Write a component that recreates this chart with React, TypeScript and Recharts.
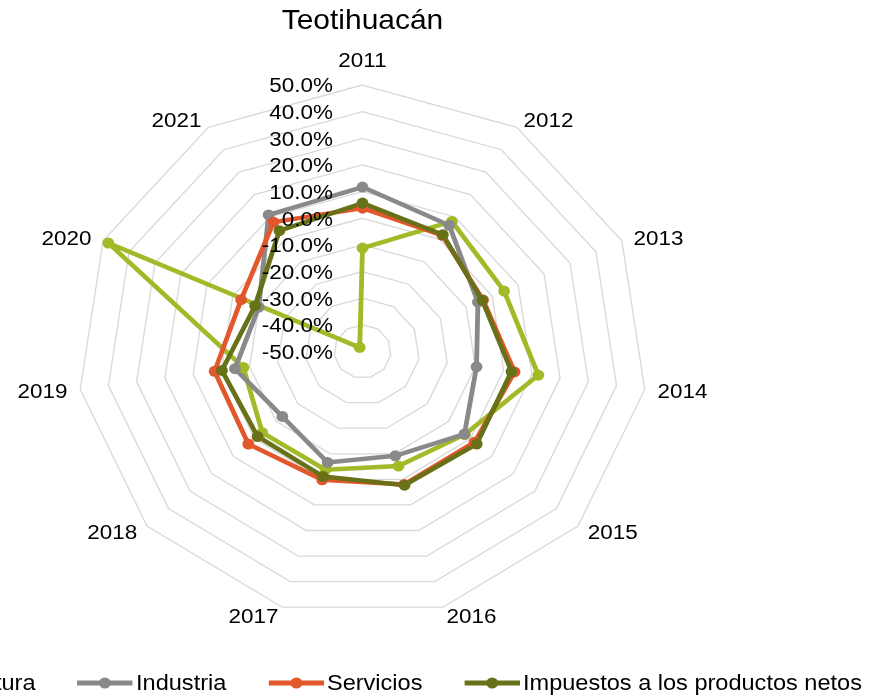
import React from "react";
import {
  RadarChart,
  Radar,
  PolarGrid,
  PolarAngleAxis,
  PolarRadiusAxis,
  Legend,
} from "recharts";

const years = ["2011", "2012", "2013", "2014", "2015", "2016", "2017", "2018", "2019", "2020", "2021"];

const agricultura = [-11.2, 8.0, 4.6, 12.3, -2.5, -5.2, -3.8, -3.5, -7.8, 48.0, -48.2];
const industria = [11.7, 6.3, -5.5, -9.6, -2.7, -9.2, -6.6, -12.8, -4.8, -10.0, 10.9];
const servicios = [3.8, 1.8, -3.5, 3.9, 2.0, 2.0, 0.2, 3.0, 2.4, -3.2, 7.7];
const impuestos = [5.7, 2.1, -3.8, 2.8, 3.0, 2.3, -1.1, -1.3, -0.2, -8.6, 3.9];

const radialTicks = [-50, -40, -30, -20, -10, 0, 10, 20, 30, 40, 50];

const series = [
  { key: "agricultura", name: "Agricultura", color: "#a2b928" },
  { key: "industria", name: "Industria", color: "#898989" },
  { key: "servicios", name: "Servicios", color: "#e2572b" },
  { key: "impuestos", name: "Impuestos a los productos netos", color: "#687118" },
];

const data = years.map((year, i) => ({
  year,
  agricultura: agricultura[i],
  industria: industria[i],
  servicios: servicios[i],
  impuestos: impuestos[i],
}));

// the reference is a bit wider than tall, so the chart is stretched sideways
const SX = 1.07;
const W = 878 / SX;
const CX = 362.5 / SX;
const CY = 351.5;
const R = 266.5;
const FONT = '"Liberation Sans", Arial, sans-serif';

const AngleTick = (props: any) => {
  const { payload } = props;
  const i = years.indexOf(String(payload.value));
  const a = ((90 - (i * 360) / years.length) * Math.PI) / 180;
  const ux = Math.cos(a);
  const uy = -Math.sin(a);
  const vx = CX + R * ux;
  const vy = CY + R * uy;
  let x = vx;
  let anchor: "start" | "middle" | "end" = "middle";
  let mid = vy + uy * 25;
  if (Math.abs(ux) > 0.1) {
    anchor = ux > 0 ? "start" : "end";
    x = vx + ux * 12;
    mid = vy + uy * 9;
  }
  return (
    <text x={x} y={mid + 7.5} textAnchor={anchor} fontSize={21} fill="#000" style={{ fontFamily: FONT }}>
      {payload.value}
    </text>
  );
};

const RadiusTick = (props: any) => {
  const { x, y, payload } = props;
  return (
    <text x={x - 27.6} y={y + 7.5} textAnchor="end" fontSize={21} fill="#000" style={{ fontFamily: FONT }}>
      {Number(payload.value).toFixed(1)}%
    </text>
  );
};

const renderLegend = (props: any) => {
  const payload = [...(props.payload || [])].sort(
    (a: any, b: any) =>
      series.findIndex((s) => s.name === a.value) - series.findIndex((s) => s.name === b.value)
  );
  return (
    <div style={{ display: "flex", whiteSpace: "nowrap", fontFamily: FONT, fontSize: 22, color: "#000" }}>
      {payload.map((entry: any) => {
        const s = series.find((it) => it.name === entry.value);
        const c = s ? s.color : entry.color;
        return (
          <div key={entry.value} style={{ display: "flex", alignItems: "center", marginRight: 39 }}>
            <svg width={52} height={14} style={{ marginRight: 3 }}>
              <line x1={0} y1={7} x2={52} y2={7} stroke={c} strokeWidth={5} />
              <circle cx={26} cy={7} r={5.5} fill={c} />
            </svg>
            <span style={{ lineHeight: "26px" }}>{entry.value}</span>
          </div>
        );
      })}
    </div>
  );
};

export default function App() {
  return (
    <div style={{ position: "absolute", left: 0, top: 0, width: 878, height: 700, overflow: "hidden", background: "#fff" }}>
      <div style={{ position: "absolute", left: 0, top: 0, width: W, height: 700, transform: `scaleX(${SX})`, transformOrigin: "0 0" }}>
        <div
          style={{
            position: "absolute",
            left: CX - 200,
            width: 400,
            top: 6.3,
            textAlign: "center",
            fontFamily: FONT,
            fontSize: 28,
            lineHeight: "28px",
            color: "#000",
          }}
        >
          Teotihuacán
        </div>
        <RadarChart
          width={W}
          height={700}
          data={data}
          cx={CX}
          cy={CY}
          outerRadius={R}
          startAngle={90}
          endAngle={-270}
          margin={{ top: 0, right: 0, bottom: 0, left: 0 }}
        >
          <PolarGrid gridType="polygon" radialLines={false} stroke="#d9d9d9" strokeWidth={1.3} />
          <PolarAngleAxis dataKey="year" tick={AngleTick} tickLine={false} axisLine={false} />
          <PolarRadiusAxis
            angle={90}
            domain={[-50, 50]}
            ticks={radialTicks}
            allowDataOverflow
            tick={RadiusTick}
            tickLine={false}
            axisLine={false}
          />
          {series.map((s) => (
            <Radar
              key={s.key}
              name={s.name}
              dataKey={s.key}
              stroke={s.color}
              strokeWidth={4.5}
              fill="none"
              fillOpacity={0}
              dot={{ r: 5.5, fill: s.color, stroke: s.color, strokeWidth: 0, fillOpacity: 1 }}
              isAnimationActive={false}
            />
          ))}
          <Legend content={renderLegend} wrapperStyle={{ left: -127, top: 670, width: 1100 }} />
        </RadarChart>
      </div>
    </div>
  );
}
